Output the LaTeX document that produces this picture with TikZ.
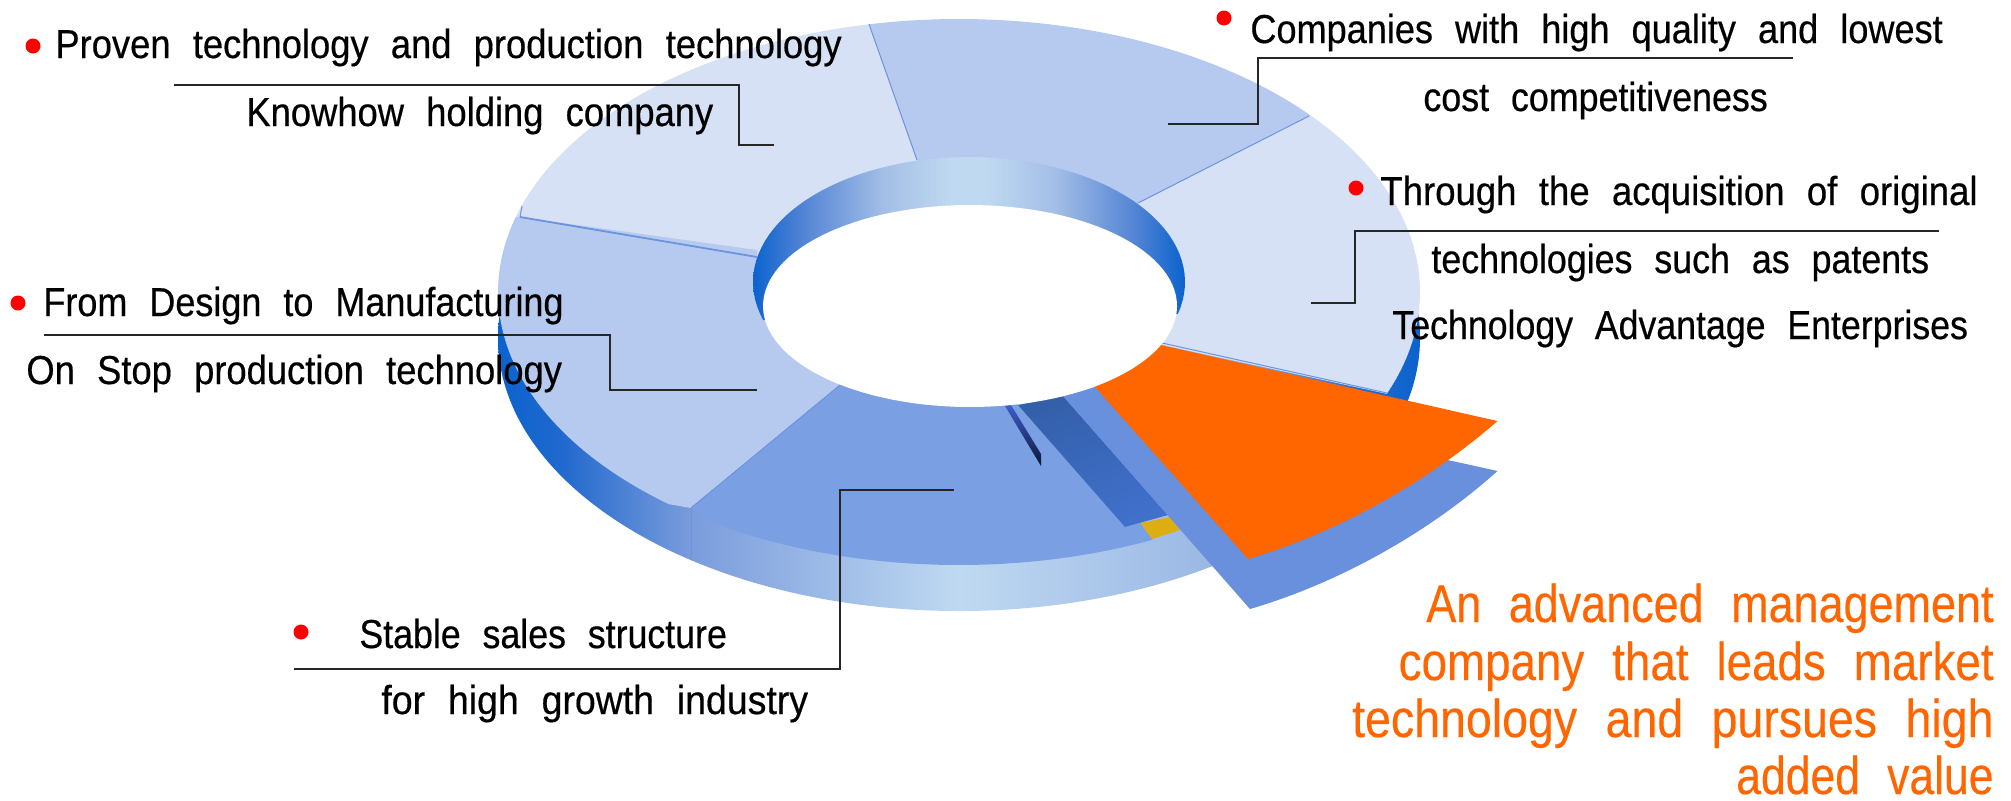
\documentclass[tikz,border=0pt]{standalone}
\usepackage{graphicx}
\usepackage{fontspec}
\setmainfont{Liberation Sans}[FakeStretch=0.9,WordSpace=2.2,FakeBold=0.45]
\newfontfamily\orangefont{Liberation Sans}[FakeStretch=0.845,WordSpace=2.2,FakeBold=0.25]
\definecolor{lightS}{HTML}{D6E1F5}
\definecolor{midS}{HTML}{B6CAF0}
\definecolor{botS}{HTML}{7A9FE3}
\definecolor{bandS}{HTML}{6890DD}
\definecolor{lineS}{HTML}{6C93DE}
\definecolor{orangeS}{HTML}{FF6600}
\definecolor{goldS}{HTML}{DCAE12}
\definecolor{edgeS}{HTML}{0B63CE}
\definecolor{edgeT}{HTML}{1F68CE}
\definecolor{seamS}{HTML}{7A9CDC}
\definecolor{paleS}{HTML}{BFD9F1}
\definecolor{rimR}{HTML}{9AB7E4}
\definecolor{wallA}{HTML}{5585D5}
\definecolor{wallB}{HTML}{A3BEE6}
\definecolor{darkA}{HTML}{3460AA}
\definecolor{darkB}{HTML}{4070CB}
\definecolor{spikeA}{HTML}{3C5FC8}
\definecolor{spikeB}{HTML}{0C1538}
\pgfdeclarehorizontalshading{rimsh}{100bp}{color(0bp)=(edgeS); color(25bp)=(edgeS); color(28.3bp)=(edgeT); color(35.5bp)=(seamS); color(50bp)=(paleS); color(64bp)=(rimR); color(72bp)=(edgeT); color(75bp)=(edgeS); color(100bp)=(edgeS)}
\pgfdeclarehorizontalshading{wallsh}{100bp}{color(0bp)=(edgeS); color(25bp)=(edgeS); color(31bp)=(wallA); color(40bp)=(wallB); color(48bp)=(paleS); color(52bp)=(paleS); color(60bp)=(wallB); color(69bp)=(wallA); color(75bp)=(edgeS); color(100bp)=(edgeS)}
\tikzset{
  outerarc/.style 2 args={insert path={-- plot[domain=#1:#2,samples=70] ({959+461*cos(\x)},{292+273*sin(\x)})}},
  wallarc/.style 2 args={insert path={plot[domain=#1:#2,samples=70] ({969+216*cos(\x)},{282+125*sin(\x)})}},
  holearc/.style={insert path={plot[domain=0:360,samples=120] ({970+207*cos(\x)},{306+101*sin(\x)})}},
  lab/.style={inner sep=0pt,anchor=base west,font=\fontsize{20.2pt}{24pt}\selectfont,text=black},
  orangetxt/.style={inner sep=0pt,anchor=base east,font=\orangefont\fontsize{26.6pt}{30pt}\selectfont,text=orangeS},
  dot/.style={circle,fill=red,draw=none,minimum size=7.5pt,inner sep=0pt},
  leader/.style={draw=black!85,line width=0.7pt},
  divider/.style={draw=lineS,line width=0.5pt},
}
\begin{document}
\begin{tikzpicture}[x=0.5pt,y=-0.5pt]
\useasboundingbox (0,0) rectangle (2011,800);
% rim
\path[shading=rimsh] (959,338) ellipse [x radius=461,y radius=273];
% top sectors
\fill[lightS] (917,160) -- (869,24) [outerarc={258.8}{196.1}] -- (757,257) -- cycle;
\fill[midS] (917,160) -- (869,24) [outerarc={258.8}{319.7}] -- (1138,203) -- cycle;
\fill[lightS] (1138,203) -- (1309,116) [outerarc={319.7}{381.9}] -- (1162,345) -- cycle;
\fill[midS] (757,257) -- (520,217) [outerarc={196.1}{129}] -- (691,508) -- (840,385) -- (970,306) -- cycle;
\fill[botS] (691,508) -- (840,385) -- (970,306) -- (1018,405) -- (1125,527) -- (1140.5,523) -- (1152,539) [outerarc={65.2}{123}] -- cycle;
\fill[midS] (520,217) -- (757,250) -- (757,257) -- cycle;
% dividers
\draw[divider] (869,24) -- (917,160);
\draw[divider] (1309,116) -- (1138,203);
\draw[divider] (691,508) -- (840,385);
\draw[divider] (691,508) -- (691,560);
\draw[draw=lineS,line width=0.9pt] (520,217) -- (757,257);
\draw[divider] (522,206) -- (520,217);
\draw[divider] (1162,343) -- (1387,393);
% inner wall
\path[shading=wallsh] [wallarc={162.3}{374.8}] -- cycle;
% exploded piece
\fill[goldS] (1140.5,523) -- (1170,517) -- (1180,530) -- (1152,539) -- cycle;
\path[left color=darkA,right color=darkB,shading angle=20] (1018,405) -- (1063,396) -- (1168,515) -- (1125,527) -- cycle;
\fill[bandS] (1063,396) -- (1095,387) -- (1457,462) -- (1497.5,471) .. controls (1432,530) and (1342,582) .. (1250,609) -- cycle;
\fill[orangeS] (1161,345) -- (1497.5,421) .. controls (1430,480) and (1340,532) .. (1248,559) -- (1095,387) -- (1050,340) -- cycle;
\path[top color=spikeA,bottom color=spikeB] (1005,406) -- (1011,405) -- (1041,454) -- (1041,466) -- cycle;
% hole
\fill[white] [holearc] -- cycle;
% leaders
\coordinate (a1) at (174,85); \coordinate (a2) at (739,85); \coordinate (a3) at (739,145); \coordinate (a4) at (774,145);
\draw[leader] (a1) -- (a2) -- (a3) -- (a4);
\coordinate (b1) at (44,335); \coordinate (b2) at (610,335); \coordinate (b3) at (610,390); \coordinate (b4) at (757,390);
\draw[leader] (b1) -- (b2) -- (b3) -- (b4);
\coordinate (c1) at (1793,58); \coordinate (c2) at (1258,58); \coordinate (c3) at (1258,124); \coordinate (c4) at (1167.5,124);
\draw[leader] (c1) -- (c2) -- (c3) -- (c4);
\coordinate (d1) at (1939,231); \coordinate (d2) at (1355,231); \coordinate (d3) at (1355,303); \coordinate (d4) at (1311,303);
\draw[leader] (d1) -- (d2) -- (d3) -- (d4);
\coordinate (e1) at (294,669); \coordinate (e2) at (840,669); \coordinate (e3) at (840,490); \coordinate (e4) at (954,490);
\draw[leader] (e1) -- (e2) -- (e3) -- (e4);
% bullets
\node[dot] (p1) at (33,46) {};
\node[dot] (p2) at (18,303) {};
\node[dot] (p3) at (1224,18) {};
\node[dot] (p4) at (1356,188) {};
\node[dot] (p5) at (301,632) {};
% labels
\node[lab] (t1) at (55,58) {Proven technology and production technology};
\node[lab] (t2) at (246,126) {Knowhow holding company};
\node[lab] (t3) at (43,316) {\scalebox{0.99}[1]{From Design to Manufacturing}};
\node[lab] (t4) at (26,384) {On Stop production technology};
\node[lab] (t5) at (1250,43) {\scalebox{0.993}[1]{Companies with high quality and lowest}};
\node[lab] (t6) at (1423,111) {\scalebox{0.985}[1]{cost competitiveness}};
\node[lab] (t7) at (1380,205) {\scalebox{1.005}[1]{Through the acquisition of original}};
\node[lab] (t8) at (1431,273) {\scalebox{0.985}[1]{technologies such as patents}};
\node[lab] (t9) at (1392,339) {\scalebox{0.982}[1]{Technology Advantage Enterprises}};
\node[lab] (t10) at (359,648) {\scalebox{0.983}[1]{Stable sales structure}};
\node[lab] (t11) at (381,714) {\scalebox{1.03}[1]{for high growth industry}};
\node[orangetxt] (o1) at (1994,622) {An advanced management};
\node[orangetxt] (o2) at (1994,680) {\scalebox{1.0175}[1]{company that leads market}};
\node[orangetxt] (o3) at (1994,737) {\scalebox{1.035}[1]{technology and pursues high}};
\node[orangetxt] (o4) at (1994,794) {\scalebox{0.99}[1]{added value}};
\end{tikzpicture}
\end{document}
